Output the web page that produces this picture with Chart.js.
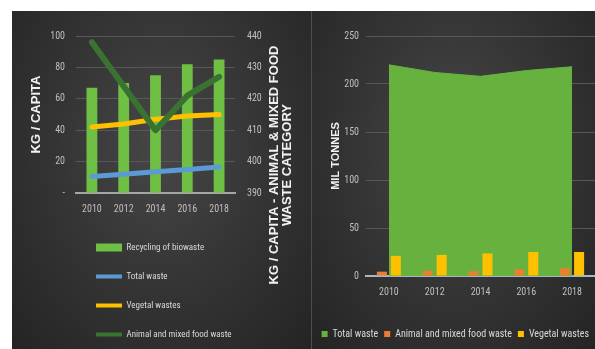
<!DOCTYPE html>
<html>
<head>
<meta charset="utf-8">
<script src="https://cdn.jsdelivr.net/npm/chart.js@4.4.1/dist/chart.umd.min.js"></script>
<style>
    html, body { margin: 0; padding: 0; background: #fff; width: 595px; height: 349px; overflow: hidden; }
    .panel { position: absolute; top: 11px; height: 338px;
             background: radial-gradient(ellipse at 50% 40%, #474747 0%, #363636 45%, #242424 100%); }
    #leftPanel  { left: 12px;  width: 299px; }
    #rightPanel { left: 311px; width: 284px; }
    #divider { position: absolute; left: 311px; top: 11px; width: 1px; height: 338px; background: #4d4d4d; }
    canvas { display: block; }
</style>
</head>
<body>
<div class="panel" id="leftPanel"><canvas id="kgChart" width="299" height="338"></canvas></div>
<div class="panel" id="rightPanel"><canvas id="mtChart" width="284" height="338"></canvas></div>
<div id="divider"></div>
<script>
// Food waste charts: kg per capita (left) and million tonnes (right)

const years = ["2010", "2012", "2014", "2016", "2018"];

// left chart, kg / capita
const biowasteRecycling = [67, 70, 75, 82, 85];
const totalWasteKg      = [10.5, 12, 13.5, 15, 16.5];
const vegetalKg         = [42, 44, 47, 49, 50];
const animalFoodKg      = [438, 424, 410, 421, 427];   // right axis
const kgTicks           = [0, 20, 40, 60, 80, 100];
const animalTicks       = [390, 400, 410, 420, 430, 440];

// right chart, million tonnes
const totalWasteMt = [220, 212, 208, 214, 218];
const animalFoodMt = [4.5, 5.5, 5, 7, 8];
const vegetalMt    = [21, 22, 23.5, 25, 25];
const mtTicks      = [0, 50, 100, 150, 200, 250];

const NARROW = '"Roboto Condensed", "Liberation Sans", sans-serif';
const BOLD   = '"Liberation Sans", Arial, sans-serif';
Chart.defaults.font.family = NARROW;
Chart.defaults.font.size = 10;
Chart.defaults.color = "#bfbfbf";

const GREEN  = "#6fbf44";
const BLUE   = "#5b9bd5";
const YELLOW = "#ffc000";
const DKGRN  = "#3a7231";
const ORANGE = "#ed7d31";
const AREA   = "#67b23f";

function fixedTicks(list) {
    return function (scale) { scale.ticks = list.map(function (v) { return { value: v }; }); };
}

// rotated two line title for the right axis (reads bottom to top)
const sideTitle = {
    id: "sideTitle",
    afterDraw: function (chart, args, opts) {
        if (!opts.lines) return;
        const ctx = chart.ctx;
        ctx.save();
        ctx.translate(opts.x, opts.y);
        ctx.rotate(-Math.PI / 2);
        ctx.font = "bold 13px " + BOLD;
        ctx.fillStyle = "#f2f2f2";
        ctx.textAlign = "center";
        ctx.textBaseline = "middle";
        var n = opts.lines.length;
        for (var i = 0; i < n; i++) {
            ctx.fillText(opts.lines[i], 0, (i - (n - 1) / 2) * 13);
        }
        ctx.restore();
    }
};

// legend items in dataset order: rect for bars / area, thick line for lines
function legendLabels(chart) {
    const items = Chart.defaults.plugins.legend.labels.generateLabels(chart);
    items.sort(function (a, b) { return a.datasetIndex - b.datasetIndex; });
    return items.map(function (it) {
        const ds = chart.data.datasets[it.datasetIndex];
        const col = ds.borderColor || ds.backgroundColor;
        it.fillStyle = col;
        it.strokeStyle = col;
        if ((ds.type || chart.config.type) === "line" && !ds.fill) {
            it.pointStyle = "line";
            it.lineWidth = 4;
        } else {
            it.pointStyle = "rect";
            it.lineWidth = 0;
        }
        it.fontColor = "#d9d9d9";
        return it;
    });
}

// ── LEFT CHART ──
new Chart(document.getElementById("kgChart"), {
    type: "bar",
    data: {
        labels: years,
        datasets: [
            { type: "bar", label: "Recycling of biowaste", data: biowasteRecycling, backgroundColor: GREEN, borderColor: GREEN,
              categoryPercentage: 1, barPercentage: 0.34, yAxisID: "y", order: 4 },
            { type: "line", label: "Total waste", data: totalWasteKg, borderColor: BLUE, backgroundColor: BLUE,
              borderWidth: 5, pointRadius: 0, borderCapStyle: "round", yAxisID: "y", order: 3 },
            { type: "line", label: "Vegetal wastes", data: vegetalKg, borderColor: YELLOW, backgroundColor: YELLOW,
              borderWidth: 5, pointRadius: 0, borderCapStyle: "round", yAxisID: "y", order: 2 },
            { type: "line", label: "Animal and mixed food waste", data: animalFoodKg, borderColor: DKGRN, backgroundColor: DKGRN,
              borderWidth: 6, pointRadius: 0, borderCapStyle: "round", borderJoinStyle: "round", yAxisID: "y1", order: 1 }
        ]
    },
    options: {
        responsive: false,
        animation: false,
        layout: { padding: { top: 25, left: 0, right: 0, bottom: 0 } },
        plugins: {
            tooltip: { enabled: false },
            legend: {
                position: "bottom",
                align: "start",
                fullSize: false,
                labels: { usePointStyle: true, pointStyleWidth: 26, boxHeight: 8, padding: 20,
                          color: "#d9d9d9", font: { size: 9 }, generateLabels: legendLabels }
            },
            sideTitle: { lines: ["KG / CAPITA - ANIMAL & MIXED FOOD", "WASTE CATEGORY"], x: 269, y: 154 }
        },
        scales: {
            x: {
                grid: { display: false, drawTicks: false },
                border: { color: "#a6a6a6", width: 2 },
                ticks: { padding: 10, color: "#bfbfbf" },
                afterFit: function (s) { s.height = 30; }
            },
            y: {
                position: "left",
                min: 0, max: 100,
                afterBuildTicks: fixedTicks(kgTicks),
                grid: { color: "#575757", drawTicks: false },
                border: { display: false },
                ticks: { padding: 11, callback: function (v) { return v === 0 ? "-" : v; } },
                title: { display: true, text: "KG / CAPITA", color: "#f2f2f2",
                         font: { family: BOLD, weight: "bold", size: 13 }, padding: { top: 17, bottom: 0 } },
                afterFit: function (s) { s.width = 64; }
            },
            y1: {
                position: "right",
                min: 390, max: 440,
                afterBuildTicks: fixedTicks(animalTicks),
                grid: { display: false, drawTicks: false },
                border: { display: false },
                ticks: { padding: 12 },
                afterFit: function (s) { s.width = 76; }
            }
        }
    },
    plugins: [sideTitle]
});

// ── RIGHT CHART ──
new Chart(document.getElementById("mtChart"), {
    type: "bar",
    data: {
        labels: years,
        datasets: [
            { type: "line", label: "Total waste", data: totalWasteMt, fill: "origin", backgroundColor: AREA, borderColor: AREA,
              borderWidth: 1, pointRadius: 0, order: 1 },
            { type: "bar", label: "Animal and mixed food waste", data: animalFoodMt, backgroundColor: ORANGE, borderColor: ORANGE,
              categoryPercentage: 0.61, barPercentage: 0.72, order: 0 },
            { type: "bar", label: "Vegetal wastes", data: vegetalMt, backgroundColor: YELLOW, borderColor: YELLOW,
              categoryPercentage: 0.61, barPercentage: 0.72, order: 0 }
        ]
    },
    options: {
        responsive: false,
        animation: false,
        layout: { padding: { top: 25, left: 0, right: 0, bottom: 0 } },
        plugins: {
            tooltip: { enabled: false },
            legend: {
                position: "bottom",
                align: "end",
                labels: { boxWidth: 6, boxHeight: 6, padding: 6, color: "#d9d9d9", font: { size: 10 },
                          generateLabels: legendLabels }
            }
        },
        scales: {
            x: {
                offset: true,
                grid: { display: false, drawTicks: false },
                border: { color: "#a9b6c6", width: 2 },
                ticks: { padding: 10, color: "#bfbfbf" },
                afterFit: function (s) { s.height = 47; }
            },
            y: {
                min: 0, max: 250,
                afterBuildTicks: fixedTicks(mtTicks),
                grid: { color: "#575757", drawTicks: false },
                border: { display: false },
                ticks: { padding: 7 },
                title: { display: true, text: "MIL TONNES", color: "#f2f2f2",
                         font: { family: BOLD, weight: "bold", size: 11 }, padding: { top: 18, bottom: 0 } },
                afterFit: function (s) { s.width = 55; }
            }
        }
    }
});
</script>
</body>
</html>
